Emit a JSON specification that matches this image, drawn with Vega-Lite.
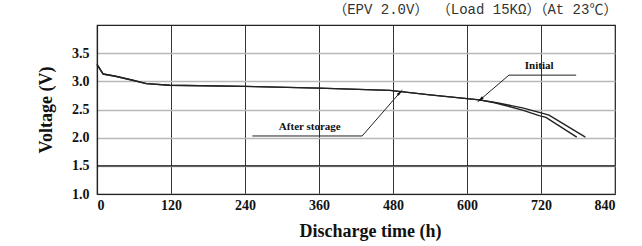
{
  "$schema": "https://vega.github.io/schema/vega-lite/v6.json",
  "width": 518,
  "height": 169,
  "autosize": {"type": "none"},
  "padding": {"left": 97, "top": 25, "right": 27, "bottom": 52},
  "background": "white",
  "title": {
    "text": "（EPV 2.0V）    （Load 15KΩ）（At 23℃）",
    "anchor": "end",
    "font": "Liberation Mono, Noto Sans CJK SC",
    "fontSize": 14,
    "fontWeight": "normal",
    "color": "#333",
    "offset": 8
  },
  "datasets": {
    "curves": [
      {"series": "Initial", "t": 0, "v": 3.30},
      {"series": "Initial", "t": 10, "v": 3.13},
      {"series": "Initial", "t": 30, "v": 3.09},
      {"series": "Initial", "t": 58, "v": 3.02},
      {"series": "Initial", "t": 80, "v": 2.96},
      {"series": "Initial", "t": 118, "v": 2.93},
      {"series": "Initial", "t": 240, "v": 2.91},
      {"series": "Initial", "t": 360, "v": 2.88},
      {"series": "Initial", "t": 475, "v": 2.84},
      {"series": "Initial", "t": 540, "v": 2.76},
      {"series": "Initial", "t": 620, "v": 2.67},
      {"series": "Initial", "t": 648, "v": 2.62},
      {"series": "Initial", "t": 690, "v": 2.53},
      {"series": "Initial", "t": 717, "v": 2.45},
      {"series": "Initial", "t": 733, "v": 2.40},
      {"series": "Initial", "t": 792, "v": 2.01},
      {"series": "After storage", "t": 0, "v": 3.30},
      {"series": "After storage", "t": 10, "v": 3.13},
      {"series": "After storage", "t": 30, "v": 3.09},
      {"series": "After storage", "t": 58, "v": 3.02},
      {"series": "After storage", "t": 80, "v": 2.96},
      {"series": "After storage", "t": 118, "v": 2.93},
      {"series": "After storage", "t": 240, "v": 2.91},
      {"series": "After storage", "t": 360, "v": 2.88},
      {"series": "After storage", "t": 475, "v": 2.84},
      {"series": "After storage", "t": 540, "v": 2.76},
      {"series": "After storage", "t": 620, "v": 2.67},
      {"series": "After storage", "t": 645, "v": 2.62},
      {"series": "After storage", "t": 690, "v": 2.49},
      {"series": "After storage", "t": 717, "v": 2.39},
      {"series": "After storage", "t": 728, "v": 2.36},
      {"series": "After storage", "t": 778, "v": 2.01}
    ],
    "baseline": [
      {"t": 0, "v": 1.5},
      {"t": 840, "v": 1.5}
    ],
    "leaders": [
      {"g": "Initial", "o": 1, "t": 777, "v": 3.11},
      {"g": "Initial", "o": 2, "t": 668, "v": 3.11},
      {"g": "Initial", "o": 3, "t": 621, "v": 2.67},
      {"g": "After storage", "o": 1, "t": 252, "v": 2.03},
      {"g": "After storage", "o": 2, "t": 430, "v": 2.03},
      {"g": "After storage", "o": 3, "t": 492, "v": 2.81}
    ],
    "labels": [
      {"label": "Initial", "t": 717, "v": 3.27},
      {"label": "After storage", "t": 345, "v": 2.19}
    ]
  },
  "encoding": {
    "x": {
      "field": "t",
      "type": "quantitative",
      "scale": {"domain": [0, 840], "nice": false, "zero": false},
      "axis": {
        "title": "Discharge time (h)",
        "values": [0, 120, 240, 360, 480, 600, 720, 840],
        "format": "d",
        "grid": true,
        "gridColor": "#333",
        "gridWidth": 1,
        "gridOpacity": 1,
        "ticks": false,
        "labelPadding": 4,
        "titlePadding": 10,
        "titleX": 273
      }
    },
    "y": {
      "field": "v",
      "type": "quantitative",
      "scale": {"domain": [1, 4], "nice": false, "zero": false},
      "axis": {
        "title": "Voltage (V)",
        "values": [1, 1.5, 2, 2.5, 3, 3.5],
        "format": ".1f",
        "grid": true,
        "gridColor": "#b8b8b8",
        "gridWidth": 1.6,
        "gridOpacity": 1,
        "ticks": false,
        "labelPadding": 8,
        "titlePadding": 16
      }
    }
  },
  "layer": [
    {
      "data": {"name": "baseline"},
      "mark": {"type": "line", "color": "#111", "strokeWidth": 1.2}
    },
    {
      "data": {"name": "curves"},
      "mark": {"type": "line", "color": "#222", "strokeWidth": 1.4},
      "encoding": {
        "detail": {"field": "series", "type": "nominal"}
      }
    },
    {
      "data": {"name": "leaders"},
      "mark": {"type": "line", "color": "#222", "strokeWidth": 1},
      "encoding": {
        "detail": {"field": "g", "type": "nominal"},
        "order": {"field": "o", "type": "quantitative"}
      }
    },
    {
      "data": {"name": "leaders"},
      "transform": [{"filter": "datum.g == 'Initial' && datum.o == 3"}],
      "mark": {"type": "point", "shape": "M0,-1L0.35,1L-0.35,1Z", "filled": true, "color": "#111", "size": 60, "angle": 229, "opacity": 1}
    },
    {
      "data": {"name": "leaders"},
      "transform": [{"filter": "datum.g == 'After storage' && datum.o == 3"}],
      "mark": {"type": "point", "shape": "M0,-1L0.35,1L-0.35,1Z", "filled": true, "color": "#111", "size": 60, "angle": 44, "opacity": 1}
    },
    {
      "data": {"name": "labels"},
      "mark": {"type": "text", "font": "Liberation Serif", "fontWeight": "bold", "fontSize": 11, "color": "#111"},
      "encoding": {
        "text": {"field": "label", "type": "nominal"}
      }
    }
  ],
  "config": {
    "view": {"stroke": "#222", "strokeWidth": 1.2},
    "axis": {
      "labelFont": "Liberation Serif",
      "labelFontWeight": "bold",
      "labelFontSize": 14,
      "labelColor": "#111",
      "titleFont": "Liberation Serif",
      "titleFontWeight": "bold",
      "titleFontSize": 18,
      "titleColor": "#111",
      "domainColor": "#222",
      "domainWidth": 1.2
    }
  }
}
